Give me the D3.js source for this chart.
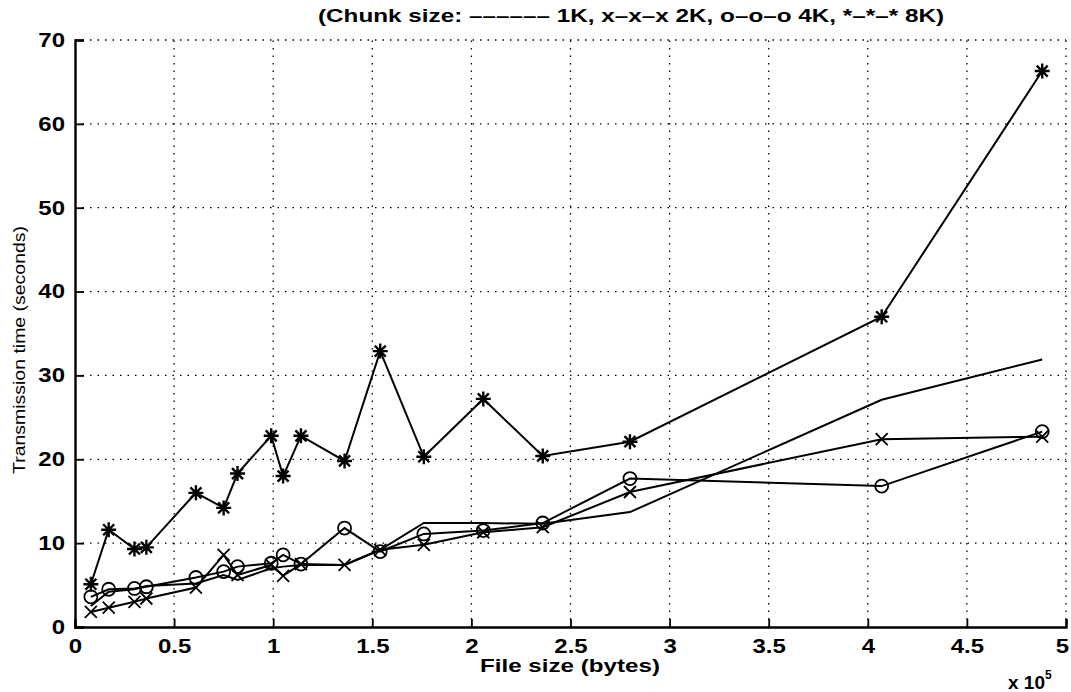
<!DOCTYPE html>
<html><head><meta charset="utf-8">
<script src="https://cdn.jsdelivr.net/npm/d3@7"></script>
<style>
body{margin:0;background:#fff;}
text{font-family:"Liberation Sans",Arial,Helvetica,sans-serif;fill:#000;}
</style></head>
<body><svg id="c" width="1071" height="692"></svg>
<script>
const fileSizes = [0.08, 0.17, 0.30, 0.36, 0.61, 0.75, 0.82, 0.99, 1.05, 1.14, 1.36, 1.54, 1.76, 2.06, 2.36, 2.80, 4.07, 4.88];
const chunk1K = [2.5, 4.2, 4.5, 4.9, 5.2, 6.2, 5.6, 7.0, 7.2, 7.4, 7.4, 9.2, 12.4, 12.4, 12.3, 13.7, 27.1, 31.9];
const chunk2K = [1.8, 2.3, 3.0, 3.4, 4.7, 8.6, 6.2, 7.4, 6.1, 7.5, 7.4, 9.2, 9.8, 11.3, 11.9, 16.1, 22.4, 22.7];
const chunk4K = [3.6, 4.5, 4.6, 4.8, 5.9, 6.6, 7.2, 7.6, 8.6, 7.5, 11.8, 9.0, 11.1, 11.5, 12.4, 17.7, 16.8, 23.3];
const chunk8K = [5.1, 11.6, 9.3, 9.5, 16.0, 14.2, 18.3, 22.8, 18.0, 22.8, 19.8, 32.9, 20.3, 27.2, 20.4, 22.1, 37.0, 66.3];
const xTicks = [0, 0.5, 1, 1.5, 2, 2.5, 3, 3.5, 4, 4.5, 5];
const yTicks = [0, 10, 20, 30, 40, 50, 60, 70];
const titleText = "(Chunk size: \u2013\u2013\u2013\u2013\u2013\u2013 1K, x\u2013x\u2013x 2K, o\u2013o\u2013o 4K, *\u2013*\u2013* 8K)";

const svg = d3.select("#c");
const L = 75, R = 1066, T = 40, B = 627;
const x = d3.scaleLinear().domain([0, 5]).range([L, R]);
const y = d3.scaleLinear().domain([0, 70]).range([B, T]);

// grid
const grid = svg.append("g").attr("stroke", "#000").attr("stroke-width", 1.3).attr("stroke-dasharray", "1.5,6");
grid.selectAll(".gx").data(xTicks.filter(d => d > 0)).join("line")
  .attr("x1", d => x(d)).attr("x2", d => x(d)).attr("y1", B).attr("y2", T);
grid.selectAll(".gy").data(yTicks.filter(d => d > 0)).join("line")
  .attr("y1", d => y(d)).attr("y2", d => y(d)).attr("x1", L).attr("x2", R);

// axes
const xAxis = d3.axisBottom(x).tickValues(xTicks).tickSize(-8).tickPadding(12)
  .tickFormat(d => d3.format("~g")(d));
const gx = svg.append("g").attr("transform", `translate(0,${B})`).call(xAxis);
const yAxis = d3.axisLeft(y).tickValues(yTicks).tickSize(-9).tickPadding(10);
const gy = svg.append("g").attr("transform", `translate(${L},0)`).call(yAxis);
[gx, gy].forEach(g => {
  g.attr("font-size", null).attr("font-family", null);
  g.select(".domain").attr("stroke", "#000").attr("stroke-width", 2.4);
  g.selectAll(".tick line").attr("stroke", "#000").attr("stroke-width", 1.8);
  g.selectAll("text").style("font-size", "20px").style("font-weight", "bold").attr("fill", "#000")
    .style("font-family", "'Liberation Sans', Arial, sans-serif");
});
gx.selectAll(".tick text").attr("transform", "scale(1.2,1)")
  .attr("x", d => d === 5 ? -4 / 1.2 : 0);
gy.selectAll(".tick text").attr("transform", "scale(1.2,1)").attr("x", -10 / 1.2);

// series
const line = d3.line().x(d => x(d[0])).y(d => y(d[1]));
const series = [chunk1K, chunk2K, chunk4K, chunk8K];
const gs = svg.append("g").attr("fill", "none").attr("stroke", "#000").attr("stroke-width", 2);
series.forEach(s => {
  gs.append("path").attr("d", line(fileSizes.map((f, i) => [f, s[i]])));
});

// markers 2K: x
const m2 = svg.append("g").attr("stroke", "#000").attr("stroke-width", 1.8);
fileSizes.forEach((f, i) => {
  const cx = x(f), cy = y(chunk2K[i]), r = 6;
  m2.append("path").attr("d", `M${cx-r},${cy-r}L${cx+r},${cy+r}M${cx-r},${cy+r}L${cx+r},${cy-r}`);
});
// markers 4K: circles
svg.append("g").selectAll("circle").data(fileSizes.map((f, i) => [f, chunk4K[i]])).join("circle")
  .attr("cx", d => x(d[0])).attr("cy", d => y(d[1])).attr("r", 6.5)
  .attr("fill", "none").attr("stroke", "#000").attr("stroke-width", 1.8);
// markers 8K: asterisks
const m8 = svg.append("g").attr("stroke", "#000").attr("stroke-width", 2.4);
fileSizes.forEach((f, i) => {
  const cx = x(f), cy = y(chunk8K[i]), r = 7.5, q = 5.5;
  m8.append("path").attr("d",
    `M${cx-r},${cy}L${cx+r},${cy}M${cx},${cy-r}L${cx},${cy+r}M${cx-q},${cy-q}L${cx+q},${cy+q}M${cx-q},${cy+q}L${cx+q},${cy-q}`);
});

// labels
svg.append("text").attr("x", 631).attr("y", 22).attr("text-anchor", "middle")
  .style("font-size", "18px").style("font-weight", "bold")
  .attr("textLength", 626).attr("lengthAdjust", "spacingAndGlyphs")
  .text(titleText);
svg.append("text").attr("x", 570).attr("y", 672).attr("text-anchor", "middle")
  .style("font-size", "18px").style("font-weight", "bold")
  .attr("textLength", 180).attr("lengthAdjust", "spacingAndGlyphs")
  .text("File size (bytes)");
svg.append("text").attr("transform", "translate(25,350) rotate(-90)").attr("text-anchor", "middle")
  .style("font-size", "17px").attr("textLength", 248).attr("lengthAdjust", "spacingAndGlyphs")
  .text("Transmission time (seconds)");
const ex = svg.append("text").attr("x", 1008).attr("y", 689)
  .style("font-size", "19px").style("font-weight", "bold");
ex.append("tspan").text("x 10");
ex.append("tspan").attr("dy", -10).style("font-size", "12px").text("5");
</script></body></html>
